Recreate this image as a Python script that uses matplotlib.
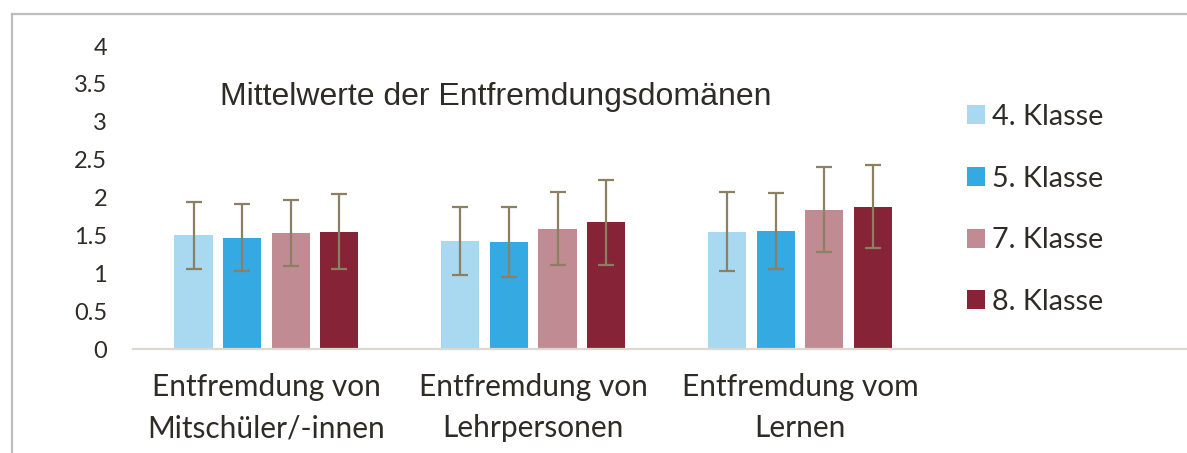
import numpy as np
import matplotlib
matplotlib.use('Agg')
import matplotlib.pyplot as plt
from matplotlib.lines import Line2D

# Daten
kategorien = ['Entfremdung von\nMitschüler/-innen', 'Entfremdung von\nLehrpersonen', 'Entfremdung vom\nLernen']
klassen = ['4. Klasse', '5. Klasse', '7. Klasse', '8. Klasse']
mittel_4 = [1.50, 1.43, 1.55]
mittel_5 = [1.47, 1.41, 1.56]
mittel_7 = [1.53, 1.59, 1.84]
mittel_8 = [1.55, 1.67, 1.88]
sd_4 = [0.44, 0.45, 0.52]
sd_5 = [0.44, 0.46, 0.50]
sd_7 = [0.44, 0.48, 0.56]
sd_8 = [0.49, 0.56, 0.55]
y_ticks = [0, 0.5, 1, 1.5, 2, 2.5, 3, 3.5, 4]
y_tick_labels = ['0', '0.5', '1', '1.5', '2', '2.5', '3', '3.5', '4']

farben = ['#A8D9F1', '#35A9E1', '#C08B93', '#862337']
err_farbe = '#8C7F62'
text_farbe = '#2F2B25'

mittel = [mittel_4, mittel_5, mittel_7, mittel_8]
sds = [sd_4, sd_5, sd_7, sd_8]

fig = plt.figure(figsize=(11.87, 4.53), dpi=100)
ax = fig.add_axes([133 / 1187, 104 / 453, 1 - 133 / 1187, 303 / 453])

x = np.arange(len(kategorien))
breite = 0.143
schritt = 0.182
for i in range(4):
    pos = x + (i - 1.5) * schritt
    ax.bar(pos, mittel[i], breite, color=farben[i], label=klassen[i], zorder=2)
    ax.errorbar(pos, mittel[i], yerr=sds[i], fmt='none', ecolor=err_farbe,
                elinewidth=1.6, capsize=5.8, capthick=1.6, zorder=3)

ax.set_xlim(-0.5, 3.45)
ax.set_ylim(0, 4)
ax.set_yticks(y_ticks)
ax.set_yticklabels(y_tick_labels, fontsize=17, color=text_farbe, family='Lato')
ax.set_xticks(x)
ax.set_xticklabels(kategorien, fontsize=21.5, color=text_farbe, family='Lato', linespacing=1.6)
ax.tick_params(axis='y', length=0, pad=18.7)
ax.tick_params(axis='x', length=0, pad=17)
for s in ['top', 'right', 'left']:
    ax.spines[s].set_visible(False)
ax.spines['bottom'].set_color('#DCD8CF')
ax.spines['bottom'].set_linewidth(1.6)

fig.text(220 / 1187, 1 - 97 / 453, 'Mittelwerte der Entfremdungsdomänen',
         fontsize=23, family='Liberation Sans', color=text_farbe, va='center', ha='left')

leg = ax.legend(loc='upper left', bbox_to_anchor=(967 / 1187, 1 - 104 / 453), bbox_transform=fig.transFigure,
                frameon=False, fontsize=20.7, handlelength=0.63, handleheight=0.63, handletextpad=0.24,
                labelspacing=1.24, borderaxespad=0, borderpad=0)
for t in leg.get_texts():
    t.set_color(text_farbe)
    t.set_family('Lato')

# Rahmen
fig.add_artist(Line2D([12 / 1187, 12 / 1187], [0, 1 - 14 / 453], transform=fig.transFigure, color='#BDBDBD', lw=1.6))
fig.add_artist(Line2D([12 / 1187, 1], [1 - 14 / 453, 1 - 14 / 453], transform=fig.transFigure, color='#BDBDBD', lw=1.6))

plt.savefig('out.png', dpi=100)
